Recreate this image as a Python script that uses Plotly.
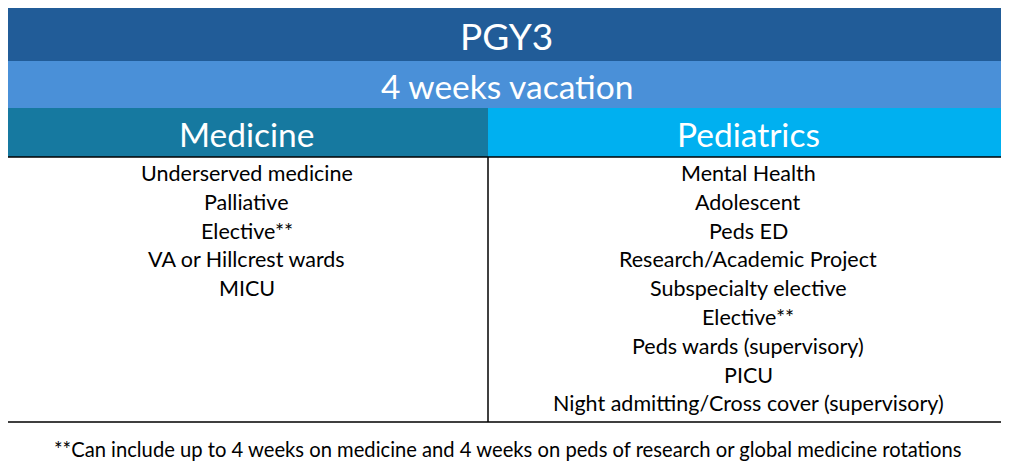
import plotly.graph_objects as go

title = "PGY3"
subtitle = "4 weeks vacation"
headers = ["Medicine", "Pediatrics"]
medicine = ["Underserved medicine", "Palliative", "Elective**", "VA or Hillcrest wards", "MICU"]
pediatrics = ["Mental Health", "Adolescent", "Peds ED", "Research/Academic Project",
              "Subspecialty elective", "Elective**", "Peds wards (supervisory)", "PICU",
              "Night admitting/Cross cover (supervisory)"]
footnote = "**Can include up to 4 weeks on medicine and 4 weeks on peds of research or global medicine rotations"

FONT = "Lato"
L, R, MID = 5, 1008, 488
shapes = [
    dict(type="rect", x0=L, x1=R, y0=5, y1=61, fillcolor="#215C98", line_width=0, layer="below"),
    dict(type="rect", x0=L, x1=R, y0=61, y1=108, fillcolor="#4A90D8", line_width=0, layer="below"),
    dict(type="rect", x0=L, x1=MID, y0=108, y1=157, fillcolor="#1679A0", line_width=0, layer="below"),
    dict(type="rect", x0=MID, x1=R, y0=108, y1=157, fillcolor="#00B0F0", line_width=0, layer="below"),
    dict(type="rect", x0=L, x1=R, y0=5, y1=422, line=dict(color="black", width=1.5)),
    dict(type="line", x0=L, x1=R, y0=157, y1=157, line=dict(color="black", width=1.5)),
    dict(type="line", x0=MID, x1=MID, y0=157, y1=422, line=dict(color="black", width=1.5)),
]

ann = [
    dict(x=(L + R) / 2, y=35, text=title, font=dict(size=37, color="white", family=FONT)),
    dict(x=(L + R) / 2, y=86, text=subtitle, font=dict(size=33.5, color="white", family=FONT)),
    dict(x=(L + MID) / 2, y=134, text=headers[0], font=dict(size=33.5, color="white", family=FONT)),
    dict(x=(MID + R) / 2, y=134, text=headers[1], font=dict(size=33.5, color="white", family=FONT)),
    dict(x=507, y=449, text=footnote, font=dict(size=20.2, color="black", family=FONT)),
]
step = 28.8
for i, t in enumerate(medicine):
    ann.append(dict(x=(L + MID) / 2, y=173 + i * step, text=t, font=dict(size=21.5, color="black", family=FONT)))
for i, t in enumerate(pediatrics):
    ann.append(dict(x=(MID + R) / 2, y=173 + i * step, text=t, font=dict(size=21.5, color="black", family=FONT)))
for a in ann:
    a.update(xref="x", yref="y", showarrow=False, xanchor="center", yanchor="middle")

# page has an 8px body margin, so shift the ranges to line up with the window
OFF = 8
fig = go.Figure()
fig.update_layout(
    width=1009, height=469, margin=dict(l=0, r=0, t=0, b=0),
    paper_bgcolor="white", plot_bgcolor="white",
    xaxis=dict(range=[OFF, 1009 + OFF], visible=False, fixedrange=True),
    yaxis=dict(range=[469 + OFF, OFF], visible=False, fixedrange=True),
    shapes=shapes, annotations=ann, showlegend=False,
)
fig.write_html("out.html")
